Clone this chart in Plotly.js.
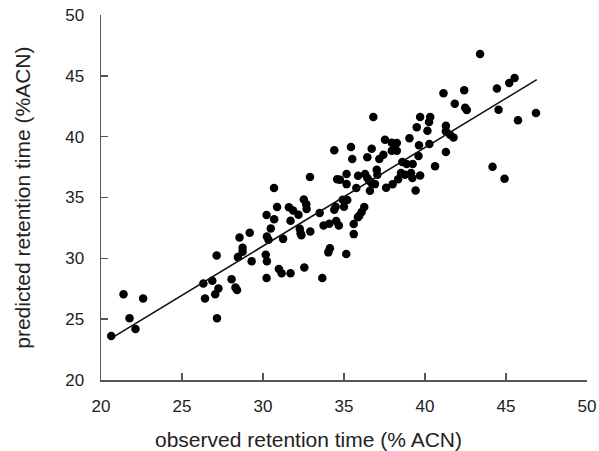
<!DOCTYPE html>
<html>
<head>
<meta charset="utf-8">
<script src="https://cdn.plot.ly/plotly-3.0.1.min.js"></script>
<style>html,body{margin:0;padding:0;background:#fff;}#chart{width:599px;height:451px;}</style>
</head>
<body>
<div id="chart"></div>
<script>
// observed retention time (% ACN)
var observed = [
  20.63, 21.39, 21.76, 22.13, 22.6,
  26.32, 26.42, 26.87, 27.14, 27.05, 27.25, 27.16, 28.06, 28.3, 28.4, 28.55, 29.18, 28.74, 28.74, 28.45, 29.3,
  30.22, 30.24, 30.34, 30.17, 30.24, 30.22, 30.48, 30.69, 30.87, 30.68, 30.98, 31.15, 31.24, 31.6, 31.7, 31.86, 31.7,
  32.19, 32.27, 32.32, 32.37, 32.52, 32.67, 32.69, 32.55, 32.92, 32.9,
  33.5, 33.66, 33.74, 34.09, 34.03, 34.13, 34.4, 34.48, 34.52, 34.68, 34.92, 35.0, 35.2, 35.14,
  34.4, 35.43, 35.51, 34.58, 35.16, 35.16, 34.75, 35.76, 35.87, 36.3, 36.44, 36.56, 36.71, 36.91, 37.02, 37.06, 36.6,
  37.6, 38.0, 38.34, 36.81, 37.53, 37.95, 38.15, 37.95, 36.71, 36.44, 37.18, 37.43,
  35.94, 35.86, 36.09, 36.25, 35.6, 35.6,
  38.26, 38.26, 39.04, 39.49, 39.7, 40.32, 40.25, 40.15, 39.63, 40.27, 39.6, 41.29, 41.29, 41.55, 41.76, 41.29,
  38.6, 38.87, 39.24, 40.62, 38.52, 38.77, 39.14, 39.22, 39.7, 39.42,
  41.14, 41.84, 42.42, 42.48, 42.58, 43.4, 44.44, 45.2, 45.53, 44.54, 45.74, 46.85, 44.17, 44.91
];
// predicted retention time (%ACN)
var predicted = [
  23.62, 27.05, 25.08, 24.2, 26.7,
  27.93, 26.69, 28.16, 30.23, 27.05, 27.52, 25.08, 28.29, 27.6, 27.4, 31.71, 32.1, 30.86, 30.55, 30.1, 29.76,
  33.56, 31.8, 31.52, 30.29, 29.76, 28.38, 32.46, 33.21, 34.21, 35.78, 29.13, 28.78, 31.6, 34.19, 33.09, 33.93, 28.78,
  33.58, 32.44, 32.07, 31.9, 34.84, 34.45, 34.05, 29.24, 32.21, 36.68,
  33.72, 28.39, 32.7, 32.84, 30.49, 30.82, 34.0, 34.24, 33.06, 32.7, 34.81, 34.24, 34.8, 30.35,
  38.88, 39.15, 38.16, 36.51, 36.93, 36.1, 36.46, 35.78, 36.79, 36.93, 36.6, 36.38, 36.18, 36.1, 37.28, 36.87, 35.56,
  35.8, 36.08, 36.5, 41.62, 39.75, 39.5, 38.93, 38.85, 39.01, 38.3, 38.16, 38.52,
  33.5, 33.38, 33.8, 34.22, 32.82, 31.99,
  39.47, 38.85, 39.88, 40.77, 41.62, 41.62, 41.21, 40.49, 39.29, 39.39, 38.42, 40.9, 40.44, 40.16, 39.94, 38.74,
  37.92, 37.75, 37.75, 37.56, 37.01, 36.87, 37.01, 36.6, 36.81, 35.57,
  43.57, 42.7, 43.81, 42.38, 42.2, 46.8, 43.95, 44.42, 44.83, 42.22, 41.34, 41.95, 37.53, 36.54
];
// regression line end points
var fitX = [20.8, 46.9];
var fitY = [23.56, 44.69];
var tickVals = [20, 25, 30, 35, 40, 45, 50];
var xTitle = 'observed retention time (% ACN)';
var yTitle = 'predicted retention time (%ACN)';

var axisColor = '#555555';
var textColor = '#222222';
var font = 'Liberation Sans, Arial, Helvetica, sans-serif';

var data = [
  {x: observed, y: predicted, type: 'scatter', mode: 'markers',
   marker: {color: '#000000', size: 8.5}, hoverinfo: 'x+y'},
  {x: fitX, y: fitY, type: 'scatter', mode: 'lines',
   line: {color: '#111111', width: 1.6}}
];

var axisBase = {
  range: [20, 50], tickvals: tickVals, ticktext: tickVals.map(String),
  showgrid: false, zeroline: false, showline: true,
  linecolor: axisColor, linewidth: 1.5,
  ticks: 'inside', ticklen: 7, tickwidth: 1.5, tickcolor: axisColor,
  tickfont: {family: font, size: 17, color: textColor},
  fixedrange: true
};

var layout = {
  width: 599, height: 451,
  margin: {l: 101, r: 12, t: 15, b: 71},
  paper_bgcolor: '#ffffff', plot_bgcolor: '#ffffff',
  showlegend: false,
  xaxis: Object.assign({}, axisBase, {ticklabelstandoff: 10}),
  yaxis: Object.assign({}, axisBase, {ticklabelstandoff: 12}),
  annotations: [
    {text: xTitle, xref: 'paper', yref: 'paper', x: 0.426, y: -0.164,
     xanchor: 'center', yanchor: 'middle', showarrow: false,
     font: {family: font, size: 21, color: textColor}},
    {text: yTitle, xref: 'paper', yref: 'paper', x: -0.162, y: 0.5,
     xanchor: 'center', yanchor: 'middle', showarrow: false, textangle: -90,
     font: {family: font, size: 21, color: textColor}}
  ]
};

Plotly.newPlot('chart', data, layout, {displayModeBar: false, staticPlot: true});
</script>
</body>
</html>
